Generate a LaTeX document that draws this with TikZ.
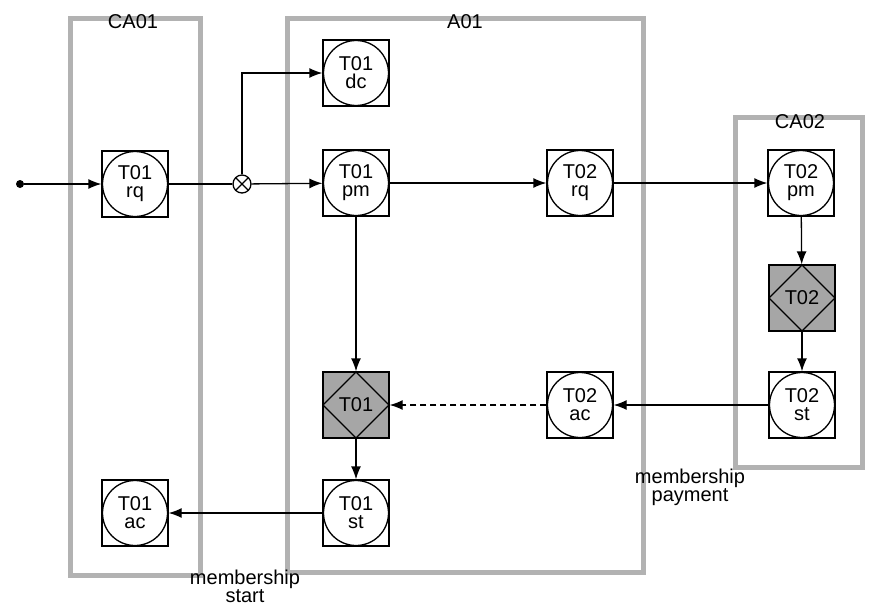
\documentclass[tikz,border=0pt]{standalone}
\usepackage{fontspec}
\setmainfont{Liberation Sans}
\usetikzlibrary{arrows.meta,shapes.geometric}
\begin{document}
\begin{tikzpicture}[x=1pt,y=-1pt,
  txt/.style={font=\fontsize{20}{18}\selectfont},
  act/.style={draw,line width=1.3pt,minimum size=66pt,inner sep=0pt,align=center,
     path picture={\draw[line width=1.3pt] (path picture bounding box.center) circle (32.5pt);},
     font=\fontsize{20}{18}\selectfont},
  fact/.style={draw,line width=1.3pt,fill=gray!70,minimum size=66pt,inner sep=0pt,txt,
     path picture={\draw[line width=1.3pt] (path picture bounding box.north) -- (path picture bounding box.east) -- (path picture bounding box.south) -- (path picture bounding box.west) -- cycle;}},
  box/.style={draw=gray!60,line width=5pt},
  arr/.style={-{Latex[length=13pt,width=10pt]},line width=1.3pt}]
\useasboundingbox (0,0) rectangle (886,605);
\draw[box] (70,18) rectangle (200,575);
\draw[box] (287,18) rectangle (643,572);
\draw[box] (735,117) rectangle (862,467);
\node[txt] (lca01) at (133,22) {CA01};
\node[txt] (la01) at (465,22) {A01};
\node[txt] (lca02) at (800,122) {CA02};
\node[act] (t01rq) at (135,184) {T01\\rq};
\node[act] (t01dc) at (356,73) {T01\\dc};
\node[act] (t01pm) at (356,183) {T01\\pm};
\node[act] (t02rq) at (580,183) {T02\\rq};
\node[act] (t02pm) at (801,183) {T02\\pm};
\node[fact] (t02) at (802,298) {T02};
\node[act] (t02st) at (802,405) {T02\\st};
\node[act] (t02ac) at (580,405) {T02\\ac};
\node[fact] (t01) at (356,405) {T01};
\node[act] (t01st) at (356,513) {T01\\st};
\node[act] (t01ac) at (135,513) {T01\\ac};
\node[circle,fill,inner sep=0pt,minimum size=8pt] (start) at (20,184) {};
\node[circle,draw,line width=1.3pt,inner sep=0pt,minimum size=18pt,
  path picture={\draw[line width=1.3pt] (path picture bounding box.north west) -- (path picture bounding box.south east) (path picture bounding box.north east) -- (path picture bounding box.south west);}] (xor) at (242,184) {};
\draw[arr] (start) -- (t01rq);
\draw[line width=1.3pt] (t01rq) -- (xor);
\draw[arr] (xor) -- (t01pm);
\draw[arr] (xor) |- (t01dc);
\draw[arr] (t01pm) -- (t02rq);
\draw[arr] (t02rq) -- (t02pm);
\draw[arr] (t02pm) -- (t02);
\draw[arr] (t02) -- (t02st);
\draw[arr] (t02st) -- (t02ac);
\draw[arr,dash pattern=on 6pt off 4pt] (t02ac) -- (t01);
\draw[arr] (t01pm) -- (t01);
\draw[arr] (t01) -- (t01st);
\draw[arr] (t01st) -- (t01ac);
\node[txt,align=center] (mp) at (690,487) {membership\\payment};
\node[txt,align=center] (ms) at (245,586) {membership\\start};
\end{tikzpicture}
\end{document}
